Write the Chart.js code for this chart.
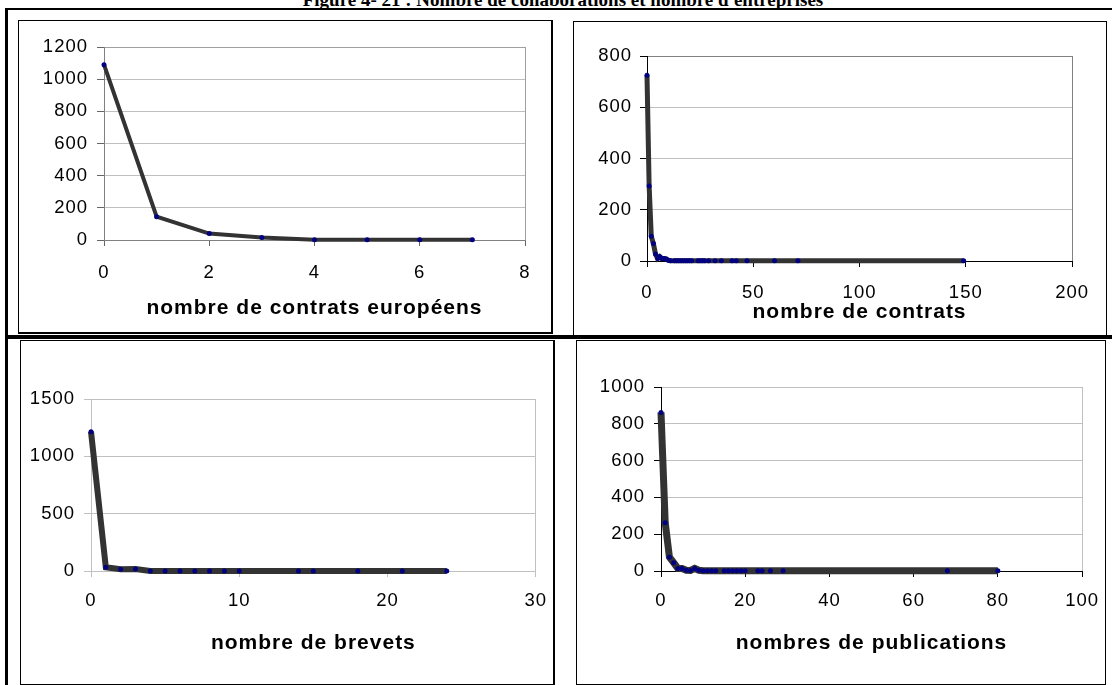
<!DOCTYPE html>
<html lang="fr">
<head>
<meta charset="utf-8">
<title>Figure 4-21</title>
<script src="https://cdn.jsdelivr.net/npm/chart.js@4.4.1/dist/chart.umd.min.js"></script>
<style>
  html, body { margin: 0; padding: 0; background: #fff; }
  body { width: 1112px; height: 685px; position: relative; overflow: hidden; }
  .fig-title { position: absolute; left: 0; width: 1126px; top: -8px; text-align: center;
    font: bold 19px/16px "Liberation Serif", "Times New Roman", serif; color: #000; white-space: nowrap; }
  .rule { position: absolute; background: #000; }
  .box { position: absolute; border: 1px solid #000; box-sizing: border-box; }
  canvas { position: absolute; }
</style>
</head>
<body>
<div class="fig-title">Figure 4- 21 : Nombre de collaborations et nombre d'entreprises</div>

<!-- table rules -->
<div class="rule" style="left:5px;top:8px;width:1107px;height:2px"></div>
<div class="rule" style="left:5px;top:8px;width:3px;height:677px"></div>
<div class="rule" style="left:5px;top:335px;width:1107px;height:4px"></div>

<!-- chart frames -->
<div class="box" style="left:18px;top:20px;width:535px;height:314px;border-right-width:2px;border-bottom-width:2px"></div>
<div class="box" style="left:573px;top:21px;width:534px;height:315px"></div>
<div class="box" style="left:20px;top:340px;width:535px;height:345px;border-right-width:2px"></div>
<div class="box" style="left:576px;top:340px;width:530px;height:345px"></div>

<canvas id="c-euro" width="530" height="309" style="left:20px;top:22px"></canvas>
<canvas id="c-contrats" width="529" height="310" style="left:575px;top:23px"></canvas>
<canvas id="c-brevets" width="538" height="340" style="left:22px;top:342px"></canvas>
<canvas id="c-pubs" width="534" height="340" style="left:578px;top:342px"></canvas>

<script>
// nombre de contrats européens
const euroX = [0, 1, 2, 3, 4, 5, 6, 7];
const euroY = [1090, 145, 40, 15, 2, 1, 1, 1];
const euroXTicks = [0, 2, 4, 6, 8];
const euroYTicks = [0, 200, 400, 600, 800, 1000, 1200];

// nombre de contrats
const contratsX = [0, 1, 2, 3, 4, 5, 6, 7, 8, 9, 10, 11, 13, 14, 15, 16, 17, 18, 19, 20, 21,
  24, 25, 26, 27, 29, 32, 35, 40, 42, 47, 60, 71, 149];
const contratsY = [725, 293, 97, 68, 27, 10, 17, 10, 10, 8, 3, 1, 1, 1, 1, 1, 1, 1, 1, 1, 1,
  1, 1, 1, 1, 1, 1, 1, 1, 1, 1, 1, 1, 1];
const contratsXTicks = [0, 50, 100, 150, 200];
const contratsYTicks = [0, 200, 400, 600, 800];

// nombre de brevets
const brevetsX = [0, 1, 2, 3, 4, 5, 6, 7, 8, 9, 10, 14, 15, 18, 21, 24];
const brevetsY = [1215, 32, 15, 17, 1, 1, 1, 1, 1, 1, 1, 1, 1, 1, 1, 1];
const brevetsXTicks = [0, 10, 20, 30];
const brevetsYTicks = [0, 500, 1000, 1500];

// nombres de publications
const pubsX = [0, 1, 2, 3, 4, 5, 6, 7, 8, 9, 10, 11, 12, 13, 15, 16, 17, 18, 19, 20, 23, 24, 26, 29, 68, 80];
const pubsY = [862, 262, 75, 45, 14, 14, 4, 3, 14, 4, 2, 1, 1, 1, 1, 1, 1, 1, 1, 1, 1, 1, 1, 1, 1, 1];
const pubsXTicks = [0, 20, 40, 60, 80, 100];
const pubsYTicks = [0, 200, 400, 600, 800, 1000];

const FAMILY = "'Liberation Sans', Arial, sans-serif";
const GRID = "#c0c0c0";

// the Word-pasted Excel text is a bit loosely spaced
const spacing = {
  id: "spacing",
  beforeLayout: (c) => { c.ctx.letterSpacing = "1px"; },
  beforeDraw: (c) => { c.ctx.letterSpacing = "1px"; },
};

// plain numbers, no thousands separator
const plain = (v) => String(v);

function plot(id, o) {
  const lastX = o.xTicks.length - 1;
  const yMax = o.yTicks[o.yTicks.length - 1];
  return new Chart(document.getElementById(id), {
    type: "line",
    data: {
      datasets: [{
        data: o.xs.map((x, i) => ({ x, y: o.ys[i] })),
        borderColor: "#333333",
        borderWidth: o.lineW,
        pointBackgroundColor: "#000080",
        pointBorderWidth: 0,
        pointRadius: 2.5,
        tension: 0,
        clip: false,
      }],
    },
    options: {
      responsive: false,
      animation: false,
      events: [],
      layout: { padding: { top: o.padTop, right: o.padRight, left: 0, bottom: 0 } },
      plugins: { legend: { display: false }, tooltip: { enabled: false } },
      scales: {
        x: {
          type: "linear",
          min: o.xTicks[0],
          max: o.xTicks[lastX],
          afterBuildTicks: (s) => { s.ticks = o.xTicks.map((v) => ({ value: v })); },
          afterFit: (s) => { s.height = o.xH; },
          ticks: { color: "#000", font: { family: FAMILY, size: 18.5 }, padding: o.xPad, maxRotation: 0, autoSkip: false, callback: plain },
          grid: { color: (c) => (c.index === lastX ? o.edge : "rgba(0,0,0,0)"), tickColor: o.tick, tickLength: 6 },
          border: { color: o.axis },
          title: {
            display: true, text: o.title, color: "#000",
            font: { family: FAMILY, size: 21, weight: "bold" },
            padding: { top: 0, bottom: o.titlePad },
          },
        },
        y: {
          min: 0,
          max: yMax,
          afterBuildTicks: (s) => { s.ticks = o.yTicks.map((v) => ({ value: v })); },
          afterFit: (s) => { s.width = o.yW; },
          ticks: { color: "#000", font: { family: FAMILY, size: 18.5 }, padding: o.yPad, callback: plain },
          grid: { color: (c) => (c.tick && c.tick.value === yMax ? o.edge : GRID), tickColor: o.tick, tickLength: 7 },
          border: { color: o.axis },
        },
      },
    },
    plugins: [spacing],
  });
}

plot("c-euro", {
  xs: euroX, ys: euroY, xTicks: euroXTicks, yTicks: euroYTicks,
  title: "nombre de contrats européens", lineW: 4,
  padTop: 25, padRight: 25, yW: 84, xH: 91, yPad: 9, xPad: 16, titlePad: 10,
  axis: "#808080", edge: "#a0a0a0", tick: "#666",
});

plot("c-contrats", {
  xs: contratsX, ys: contratsY, xTicks: contratsXTicks, yTicks: contratsYTicks,
  title: "nombre de contrats", lineW: 5,
  padTop: 33, padRight: 21, yW: 72, xH: 72, yPad: 8, xPad: 15, titlePad: 8,
  axis: "#000", edge: "#808080", tick: "#000",
});

plot("c-brevets", {
  xs: brevetsX, ys: brevetsY, xTicks: brevetsXTicks, yTicks: brevetsYTicks,
  title: "nombre de brevets", lineW: 6,
  padTop: 57, padRight: 22, yW: 69, xH: 111, yPad: 9, xPad: 13, titlePad: 26,
  axis: GRID, edge: GRID, tick: GRID,
});

plot("c-pubs", {
  xs: pubsX, ys: pubsY, xTicks: pubsXTicks, yTicks: pubsYTicks,
  title: "nombres de publications", lineW: 7,
  padTop: 45, padRight: 21, yW: 83, xH: 111, yPad: 9, xPad: 13, titlePad: 26,
  axis: "#000", edge: GRID, tick: "#000",
});
</script>
</body>
</html>
